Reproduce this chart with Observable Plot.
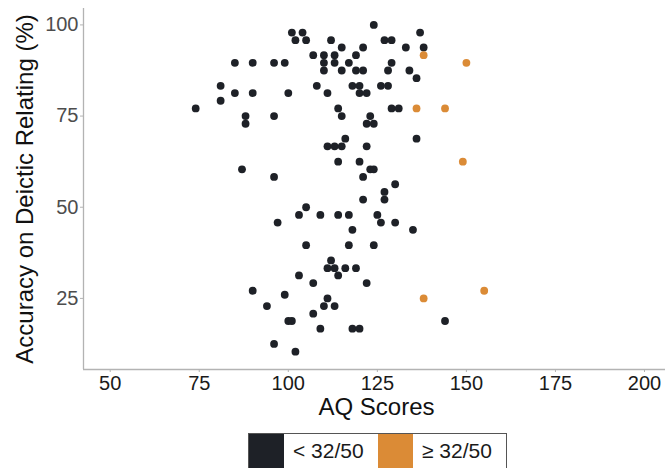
<!DOCTYPE html>
<html>
<head>
<meta charset="utf-8">
<script src="https://cdn.jsdelivr.net/npm/d3@7"></script>
<script src="https://cdn.jsdelivr.net/npm/@observablehq/plot@0.6"></script>
<style>
  html, body { margin: 0; padding: 0; background: #fff; }
  body { width: 665px; height: 468px; overflow: hidden; position: relative; font-family: "Liberation Sans", Arial, sans-serif; }
  #legend { position: absolute; left: 248px; top: 433px; width: 259px; height: 40px; box-sizing: border-box;
            border: 1px solid #555; display: flex; background: #fff; }
  #legend .key { width: 35px; height: 100%; flex: none; }
  #legend .lab { width: 94px; flex: none; box-sizing: border-box; padding-left: 9px; padding-top: 5px;
                 font-size: 21px; color: #1a1a1a; line-height: 24px; }
</style>
</head>
<body>
<div id="chart"></div>
<div id="legend"></div>
<script>
// ---- data ----
const groups = ["< 32/50", "\u2265 32/50"];
const groupColors = ["#1e2127", "#db8b36"];

const lowAQ = [
  124,
  101, 104, 137,
  102, 105, 112, 127, 129,
  115, 121, 133, 138,
  107, 110, 113, 119,
  85, 90, 96, 99, 110, 113, 117, 129,
  110, 115, 119, 121, 128, 134,
  136,
  81, 108, 118, 120, 126, 128,
  85, 90, 100, 111, 120, 122,
  81,
  74, 114, 129, 131,
  88, 96, 115, 123,
  88, 122, 124,
  116, 136,
  111, 113, 115, 122,
  114, 120,
  87, 123, 124,
  96, 121,
  130,
  127,
  121, 127,
  105,
  103, 109, 114, 117, 125,
  97, 126, 130,
  118, 135,
  105, 117, 124,
  112,
  111, 113, 116, 119,
  103, 114,
  107, 122,
  90,
  99,
  111,
  94, 110, 113,
  107,
  100, 101, 144,
  109, 118, 120,
  96,
  102
];
const lowAcc = [
  100,
  97.9, 97.9, 97.9,
  95.8, 95.8, 95.8, 95.8, 95.8,
  93.8, 93.8, 93.8, 93.8,
  91.7, 91.7, 91.7, 91.7,
  89.6, 89.6, 89.6, 89.6, 89.6, 89.6, 89.6, 89.6,
  87.5, 87.5, 87.5, 87.5, 87.5, 87.5,
  85.4,
  83.3, 83.3, 83.3, 83.3, 83.3, 83.3,
  81.3, 81.3, 81.3, 81.3, 81.3, 81.3,
  79.2,
  77.1, 77.1, 77.1, 77.1,
  75, 75, 75, 75,
  72.9, 72.9, 72.9,
  68.8, 68.8,
  66.7, 66.7, 66.7, 66.7,
  62.5, 62.5,
  60.4, 60.4, 60.4,
  58.3, 58.3,
  56.3,
  54.2,
  52.1, 52.1,
  50,
  47.9, 47.9, 47.9, 47.9, 47.9,
  45.8, 45.8, 45.8,
  43.8, 43.8,
  39.6, 39.6, 39.6,
  35.4,
  33.3, 33.3, 33.3, 33.3,
  31.3, 31.3,
  29.2, 29.2,
  27.1,
  26,
  25,
  22.9, 22.9, 22.9,
  20.8,
  18.8, 18.8, 18.8,
  16.7, 16.7, 16.7,
  12.5,
  10.4
];
const highAQ  = [138, 150, 136, 144, 149, 155, 138];
const highAcc = [91.7, 89.6, 77.1, 77.1, 62.5, 27.1, 25];

const xTicks = [50, 75, 100, 125, 150, 175, 200];
const yTicks = [25, 50, 75, 100];
const xTitle = "AQ Scores";
const yTitle = "Accuracy on Deictic Relating (%)";

// ---- table ----
const rows = [
  ...lowAQ.map((v, i) => ({aq: v, acc: lowAcc[i], group: groups[0]})),
  ...highAQ.map((v, i) => ({aq: v, acc: highAcc[i], group: groups[1]}))
];

const axisGray = "#b3b3b3";
const chart = Plot.plot({
  width: 665,
  height: 430,
  marginLeft: 83,
  marginRight: 0,
  marginTop: 8,
  marginBottom: 61,
  style: {fontFamily: "Liberation Sans, Arial, sans-serif", background: "#fff", overflow: "visible"},
  x: {domain: [42.5, 205.9]},
  y: {domain: [5.5, 104.5]},
  color: {domain: groups, range: groupColors},
  marks: [
    Plot.ruleX([42.5], {stroke: axisGray, strokeWidth: 1.3}),
    Plot.ruleY([5.5], {stroke: axisGray, strokeWidth: 1.3}),
    Plot.axisX({ticks: xTicks, tickSize: 3, tickPadding: 3, fontSize: 20, stroke: axisGray, fill: "#1a1a1a", label: null}),
    Plot.axisY({ticks: yTicks, tickSize: 3, tickPadding: 2, fontSize: 20, stroke: axisGray, fill: "#4d4d4d", label: null}),
    Plot.dot(rows, {x: "aq", y: "acc", fill: "group", r: 3.9, stroke: null}),
    Plot.text([xTitle], {frameAnchor: "bottom", textAnchor: "middle", dy: 45, dx: 2, fontSize: 24, fill: "#111"}),
    Plot.text([yTitle], {frameAnchor: "left", textAnchor: "middle", rotate: -90, dx: -58, fontSize: 24, fill: "#111"})
  ]
});
document.getElementById("chart").appendChild(chart);

// ---- legend ----
const legend = d3.select("#legend");
groups.forEach((g, i) => {
  legend.append("div").attr("class", "key").style("background", groupColors[i]);
  legend.append("div").attr("class", "lab").text(g);
});
</script>
</body>
</html>
